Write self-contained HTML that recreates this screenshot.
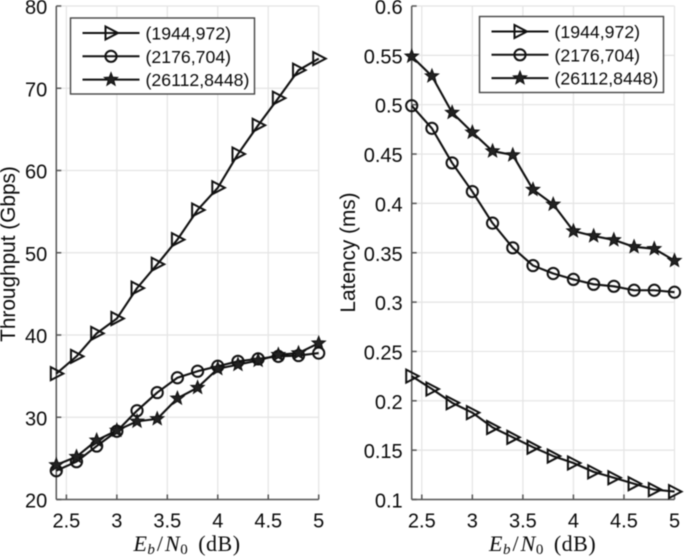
<!DOCTYPE html>
<html>
<head>
<meta charset="utf-8">
<style>
html,body{margin:0;padding:0;background:#fff;width:685px;height:557px;overflow:hidden}
svg{display:block;filter:blur(0.4px)}
text{font-family:"Liberation Sans",sans-serif;fill:#0a0a0a}
</style>
</head>
<body>
<svg id="chart" width="685" height="557" viewBox="0 0 685 557" xmlns="http://www.w3.org/2000/svg"></svg>
<script>
const snrValues = [2.4,2.6,2.8,3,3.2,3.4,3.6,3.8,4,4.2,4.4,4.6,4.8,5];
const xTickValues = [2.5,3,3.5,4,4.5,5];
const xTickLabels = ['2.5','3','3.5','4','4.5','5'];
const seriesNames = ['(1944,972)','(2176,704)','(26112,8448)'];

const throughputShort = [35.3,37.4,40.2,42,45.7,48.6,51.6,55.2,57.9,62,65.5,68.8,72.2,73.6];
const throughputMedium = [23.5,24.6,26.5,28.3,30.8,33,34.8,35.6,36.2,36.8,37.1,37.4,37.5,37.8];
const throughputLong = [24.2,25.2,27.2,28.4,29.5,29.8,32.3,33.6,35.9,36.4,36.9,37.6,37.8,39];
const throughputTicks = [20,30,40,50,60,70,80];
const throughputTickLabels = ['20','30','40','50','60','70','80'];

const latencyShort = [0.225,0.212,0.198,0.188,0.173,0.163,0.153,0.144,0.137,0.128,0.122,0.116,0.110,0.108];
const latencyMedium = [0.499,0.476,0.441,0.412,0.380,0.355,0.337,0.329,0.323,0.318,0.316,0.312,0.312,0.310];
const latencyLong = [0.549,0.529,0.492,0.472,0.453,0.449,0.414,0.399,0.372,0.367,0.363,0.356,0.354,0.342];
const latencyTicks = [0.1,0.15,0.2,0.25,0.3,0.35,0.4,0.45,0.5,0.55,0.6];
const latencyTickLabels = ['0.1','0.15','0.2','0.25','0.3','0.35','0.4','0.45','0.5','0.55','0.6'];

const NS = 'http://www.w3.org/2000/svg';
const root = document.getElementById('chart');
const INK = '#111';

function make(parent, tag, attrs, text) {
  const el = document.createElementNS(NS, tag);
  for (const k in attrs) el.setAttribute(k, attrs[k]);
  if (text !== undefined) el.textContent = text;
  parent.appendChild(el);
  return el;
}

function markerShape(parent, kind, cx, cy) {
  let el;
  if (kind === 0) {
    const p = [[cx-5.5,cy-6.5],[cx+7,cy],[cx-5.5,cy+6.5]].map(q => q.join(',')).join(' ');
    el = make(parent, 'polygon', {points:p, fill:'none', stroke:INK, 'stroke-width':2});
  } else if (kind === 1) {
    el = make(parent, 'circle', {cx:cx, cy:cy, r:5.6, fill:'none', stroke:INK, 'stroke-width':2});
  } else {
    const pts = [];
    for (let i = 0; i < 10; i++) {
      const r = i % 2 ? 3 : 7;
      const a = -Math.PI/2 + i*Math.PI/5;
      pts.push((cx + r*Math.cos(a)).toFixed(2) + ',' + (cy + r*Math.sin(a)).toFixed(2));
    }
    el = make(parent, 'polygon', {points:pts.join(' '), fill:'#222', stroke:INK, 'stroke-width':1});
  }
  
  
  return el;
}

function drawPanel(cfg) {
  const g = make(root, 'g', {});
  
  

  const xScale = v => cfg.left + (v - 2.4) / (5 - 2.4) * (cfg.right - cfg.left);
  const yScale = v => cfg.bottom - (v - cfg.yMin) / (cfg.yMax - cfg.yMin) * (cfg.bottom - cfg.top);

  // grid
  const grid = make(g, 'g', {stroke:'#e4e4e4', 'stroke-width':1.2});
  
  
  xTickValues.forEach(v => make(grid, 'line', {x1:xScale(v), x2:xScale(v), y1:cfg.top, y2:cfg.bottom}));
  cfg.yTicks.forEach(v => make(grid, 'line', {x1:cfg.left, x2:cfg.right, y1:yScale(v), y2:yScale(v)}));

  // axes
  const axes = make(g, 'g', {stroke:'#555', 'stroke-width':1.5, fill:'none'});
  
  
  make(axes, 'line', {x1:cfg.left, x2:cfg.left, y1:cfg.top, y2:cfg.bottom});
  make(axes, 'line', {x1:cfg.left, x2:cfg.right, y1:cfg.bottom, y2:cfg.bottom});
  xTickValues.forEach(v => make(axes, 'line', {x1:xScale(v), x2:xScale(v), y1:cfg.bottom, y2:cfg.bottom-5}));
  cfg.yTicks.forEach(v => make(axes, 'line', {x1:cfg.left, x2:cfg.left+5, y1:yScale(v), y2:yScale(v)}));

  // tick labels
  xTickValues.forEach((v, i) => {
    const t = make(g, 'text', {x:xScale(v), y:527.5, 'text-anchor':'middle', 'font-size':20}, xTickLabels[i]);
    
    
  });
  cfg.yTicks.forEach((v, i) => {
    const t = make(g, 'text', {x:cfg.left-9, y:yScale(v)+8, 'text-anchor':'end', 'font-size':20}, cfg.yTickLabels[i]);
    
    
  });

  // axis titles
  const yt = make(g, 'text', {transform:'translate(' + cfg.yTitleX + ',' + cfg.yTitleY + ') rotate(-90)', 'text-anchor':'middle', 'font-size':20.8}, cfg.yTitle);
  
  

  const xt = make(g, 'text', {x:(cfg.left+cfg.right)/2 - 0.5, y:551, 'text-anchor':'middle', 'font-size':22, 'letter-spacing':0.5, style:'font-family:"Liberation Serif",serif'});
  
  
  make(xt, 'tspan', {'font-style':'italic'}, 'E');
  make(xt, 'tspan', {'font-style':'italic', 'font-size':15, dy:3}, 'b');
  make(xt, 'tspan', {dy:-3, dx:1.5}, '/');
  make(xt, 'tspan', {'font-style':'italic', dx:1.5}, 'N');
  make(xt, 'tspan', {'font-size':15, dy:3}, '0');
  make(xt, 'tspan', {dy:-3, dx:10}, '(dB)');

  // series
  cfg.series.forEach((vals, k) => {
    const s = make(g, 'g', {});
    
    
    const pts = vals.map((v, i) => xScale(snrValues[i]).toFixed(2) + ',' + yScale(v).toFixed(2)).join(' ');
    make(s, 'polyline', {points:pts, fill:'none', stroke:INK, 'stroke-width':2.1, 'stroke-linejoin':'round'});
    vals.forEach((v, i) => markerShape(s, k, xScale(snrValues[i]), yScale(v)));
  });

  // legend
  const lg = make(g, 'g', {});
  
  
  make(lg, 'rect', {x:cfg.legend.x, y:cfg.legend.y, width:184, height:76, fill:'#fff', stroke:'#444', 'stroke-width':1.4});
  seriesNames.forEach((name, k) => {
    const ly = cfg.legend.y + 15 + k*23.3;
    const entry = make(lg, 'g', {});
    
    
    make(entry, 'line', {x1:cfg.legend.x+12, x2:cfg.legend.x+69, y1:ly, y2:ly, stroke:INK, 'stroke-width':2});
    markerShape(entry, k, cfg.legend.x+40.5, ly);
    make(entry, 'text', {x:cfg.legend.x+75, y:ly+6.5, 'font-size':17.7}, name);
  });
}

drawPanel({
  name:'throughput', left:56.3, right:318.7, top:6, bottom:499.5,
  yMin:20, yMax:80, yTicks:throughputTicks, yTickLabels:throughputTickLabels,
  yTitle:'Throughput (Gbps)', yTitleX:15, yTitleY:254,
  series:[throughputShort, throughputMedium, throughputLong],
  legend:{x:70.5, y:18}
});
drawPanel({
  name:'latency', left:411.7, right:674.5, top:6, bottom:499.5,
  yMin:0.1, yMax:0.6, yTicks:latencyTicks, yTickLabels:latencyTickLabels,
  yTitle:'Latency (ms)', yTitleX:355, yTitleY:252.5,
  series:[latencyShort, latencyMedium, latencyLong],
  legend:{x:479.5, y:16.5}
});
</script>
</body>
</html>
